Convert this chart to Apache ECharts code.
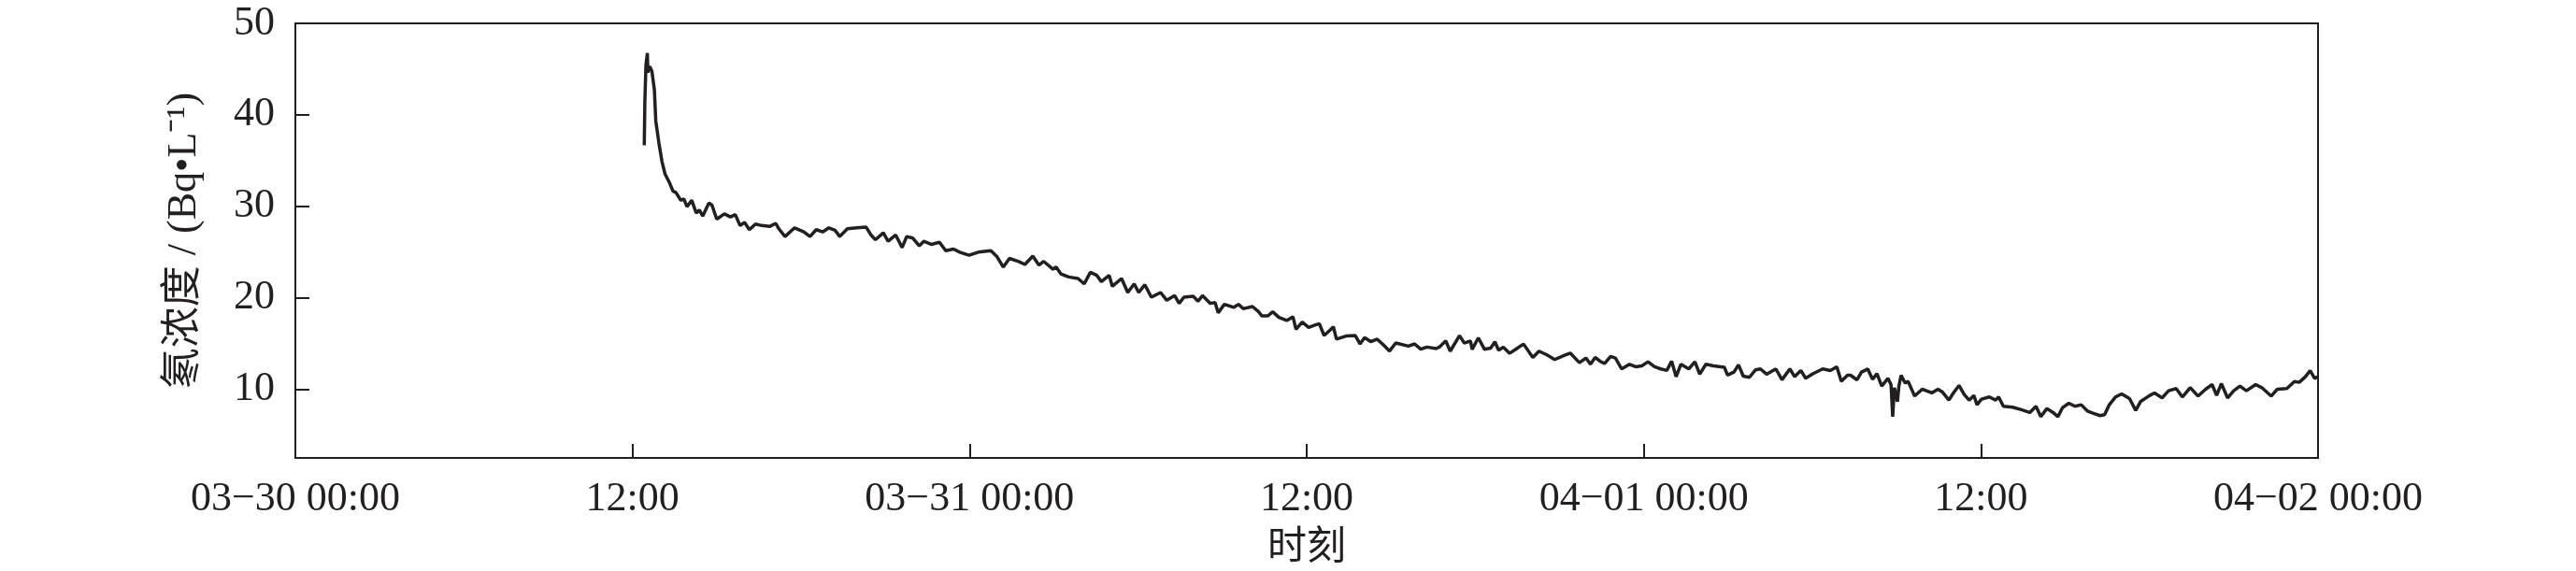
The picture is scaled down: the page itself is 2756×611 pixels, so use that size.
<!DOCTYPE html>
<html>
<head>
<meta charset="utf-8">
<script src="https://cdn.jsdelivr.net/npm/echarts@6/dist/echarts.min.js"></script>
<style>
html,body{margin:0;padding:0;background:#fff;}
#chart{width:2756px;height:611px;}
</style>
</head>
<body>
<div id="chart"></div>
<script>
// hours since 03-30 00:00
const hours = [
12.42,12.44,12.48,12.53,12.55,12.61,12.69,12.78,12.83,12.94,13.05,13.16,13.33,13.44,13.55,13.72,13.83,13.94,14.11,14.27,
14.38,14.50,14.72,14.83,15.00,15.27,15.49,15.66,15.83,15.99,16.16,16.38,16.60,16.88,17.10,17.21,17.43,17.77,18.10,18.32,
18.54,18.77,18.99,19.21,19.38,19.65,19.99,20.32,20.49,20.65,20.93,21.10,21.37,21.60,21.76,21.98,22.21,22.37,22.65,22.93,
23.15,23.43,23.65,23.98,24.31,24.76,24.98,25.20,25.42,25.75,25.97,26.25,26.47,26.64,26.97,27.08,27.25,27.53,27.86,28.08,
28.30,28.53,28.69,28.97,29.08,29.41,29.63,29.86,30.02,30.24,30.47,30.80,31.02,31.30,31.46,31.63,31.96,32.13,32.29,32.57,
32.74,32.85,33.07,33.40,33.57,33.74,34.07,34.29,34.40,34.62,34.79,35.01,35.29,35.51,35.62,35.84,36.07,36.29,36.45,36.62,
36.84,36.95,37.06,37.40,37.73,37.90,38.06,38.28,38.51,38.73,38.95,39.17,39.62,39.84,40.06,40.28,40.61,
40.72,40.95,41.11,41.44,41.61,41.83,41.89,42.11,42.33,42.55,42.70,42.83,43.00,43.22,43.44,43.72,44.05,44.27,44.55,44.83,
45.16,45.38,45.71,45.94,46.10,46.27,46.44,46.60,46.82,46.99,47.21,47.49,47.71,47.93,48.15,48.38,48.60,48.82,48.99,49.15,
49.32,49.60,49.82,49.99,50.21,50.48,50.87,50.98,51.21,51.37,51.54,51.76,51.98,52.15,52.37,52.70,52.92,53.20,53.37,53.59,
53.76,54.03,54.37,54.64,54.87,55.03,55.25,
55.36,55.59,55.75,55.97,56.14,56.30,56.47,56.69,56.80,56.86,56.92,57.03,57.08,57.16,57.30,57.41,57.64,57.91,58.25,58.47,
58.64,58.86,59.02,59.22,59.41,59.58,59.75,59.86,60.02,60.30,60.52,60.63,60.80,61.13,61.41,61.74,61.96,62.13,62.35,62.57,
62.74,62.90,63.13,63.35,63.57,63.79,64.01,64.24,64.40,64.57,64.79,65.01,65.29,65.51,65.68,66.01,66.18,66.45,66.68,66.95,
67.17,67.45,67.73,68.00,68.23,68.39,68.56,68.78,69.00,69.22,69.45,69.78,70.00,70.33,70.55,70.89,71.16,71.33,71.55,71.72,
71.88,72.00
];
// radon concentration, Bq/L
const radon = [
36.67,41.38,45.47,46.76,44.62,45.30,44.78,42.74,39.33,36.94,34.90,33.53,32.50,31.68,31.50,30.65,30.80,29.96,30.65,29.27,
29.60,28.93,30.37,30.13,28.60,29.17,28.84,29.10,27.90,28.24,27.45,28.07,27.90,27.80,28.14,27.55,26.70,27.65,27.20,26.70,
27.45,27.20,27.65,27.38,26.70,27.55,27.65,27.72,26.87,26.35,27.10,26.18,26.87,25.50,26.70,26.53,25.68,26.18,25.84,26.08,
25.16,25.33,24.99,24.65,24.99,25.16,24.48,23.36,24.31,23.97,23.64,24.56,23.57,23.98,23.13,23.37,22.62,22.28,22.11,21.53,
22.79,22.45,21.77,22.45,21.26,22.11,20.58,21.53,20.58,21.43,20.07,20.58,19.73,20.24,19.39,20.07,20.17,19.63,20.24,19.39,
19.49,18.37,19.29,18.95,19.29,18.81,19.05,18.47,18.03,18.03,18.47,17.86,17.52,17.93,16.56,17.35,16.77,17.01,17.18,15.88,
16.50,16.84,15.48,15.82,15.88,14.96,15.65,15.21,15.48,14.86,14.18,15.06,14.72,14.96,14.38,14.62,14.45,
14.61,15.29,14.17,15.87,15.05,15.29,14.37,15.63,14.37,14.51,15.19,14.27,14.61,13.93,14.37,14.95,13.48,14.17,13.76,13.25,
13.69,13.96,12.91,13.42,12.74,13.48,13.08,12.81,13.59,13.42,12.23,12.74,12.47,12.57,13.01,12.47,12.23,12.06,13.08,11.38,
12.74,12.23,13.01,11.65,12.74,12.57,12.40,11.55,11.89,12.67,11.44,11.31,12.13,12.23,11.65,12.23,11.04,12.23,11.38,12.06,
11.21,11.72,12.23,12.06,12.47,10.87,11.55,
11.54,11.03,11.88,12.22,11.10,11.71,10.35,11.20,10.52,7.01,10.18,8.65,10.35,11.54,10.69,10.86,9.26,10.01,9.60,10.01,
9.67,8.82,9.60,10.42,9.40,8.82,9.33,8.31,8.92,9.16,8.82,9.16,8.14,8.04,7.80,7.46,8.14,7.01,7.90,7.46,
7.01,7.97,8.48,8.14,8.31,7.63,7.36,7.12,7.22,8.31,9.16,9.50,8.99,7.70,8.65,9.33,9.60,9.06,9.84,10.08,
9.16,10.18,9.26,10.01,10.52,9.33,10.62,9.06,9.84,10.35,9.84,10.52,10.18,9.26,10.01,10.08,10.86,10.76,11.37,12.05,
11.20,11.37
];
const xTickLabels = ['03\u221230 00:00','12:00','03\u221231 00:00','12:00','04\u221201 00:00','12:00','04\u221202 00:00'];
const yTickValues = [10,20,30,40,50];
const xName = '时刻';
const yName = '氡浓度 / (Bq\u2022L\u207B\u00B9)';

const ink = '#231f20';
const fontFam = '"Liberation Serif","Noto Sans CJK SC",serif';
const chart = echarts.init(document.getElementById('chart'));
chart.setOption({
  backgroundColor: '#fff',
  animation: false,
  grid: {left: 316, right: 276, top: 25, bottom: 121, show: true, borderColor: ink, borderWidth: 2, backgroundColor: 'transparent', outerBoundsMode: 'none'},
  xAxis: {
    type: 'value', min: 0, max: 72, interval: 12,
    name: xName, nameLocation: 'middle', nameGap: 76,
    nameTextStyle: {fontFamily: fontFam, fontSize: 42, color: ink},
    axisLine: {show: true, lineStyle: {color: ink, width: 2}},
    axisTick: {show: true, inside: true, length: 15, lineStyle: {color: ink, width: 2}},
    axisLabel: {margin: 22, fontFamily: fontFam, fontSize: 44, color: ink,
      formatter: v => xTickLabels[Math.round(v / 12)] || ''},
    splitLine: {show: false}
  },
  yAxis: {
    type: 'value', min: 2.5, max: 50,
    name: yName, nameLocation: 'middle', nameGap: 97, nameRotate: 90,
    nameTextStyle: {fontFamily: fontFam, fontSize: 44, color: ink},
    axisLine: {show: true, lineStyle: {color: ink, width: 2}},
    axisTick: {show: true, inside: true, length: 15, customValues: yTickValues, lineStyle: {color: ink, width: 2}},
    axisLabel: {margin: 22, fontFamily: fontFam, fontSize: 44, color: ink, customValues: yTickValues},
    splitLine: {show: false}
  },
  series: [{
    type: 'line', showSymbol: false, symbol: 'none',
    data: hours.map((h, i) => [h, radon[i]]),
    lineStyle: {color: ink, width: 3.5},
    itemStyle: {color: ink}
  }]
});
</script>
</body>
</html>
